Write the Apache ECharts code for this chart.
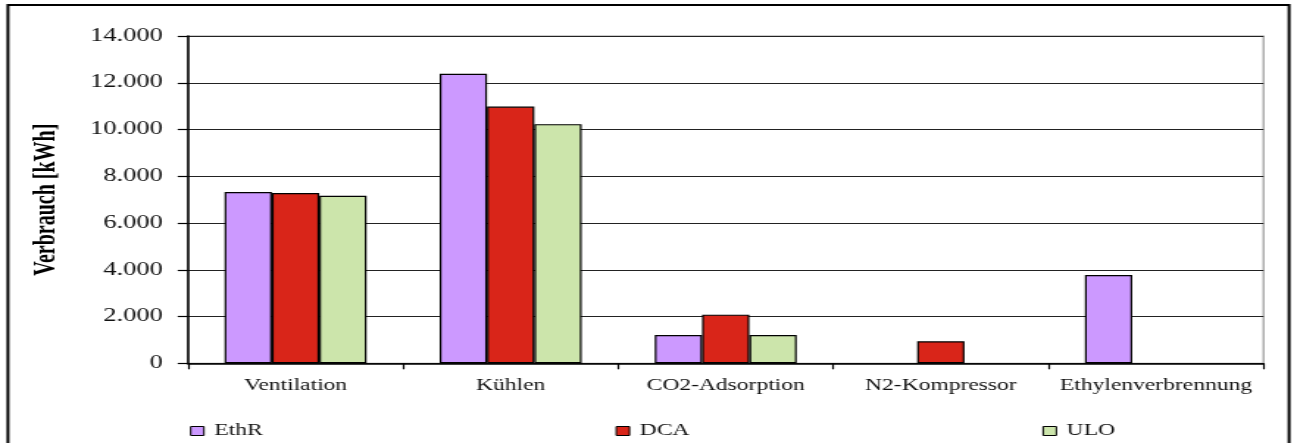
<!DOCTYPE html>
<html>
<head>
<meta charset="utf-8">
<script src="https://cdn.jsdelivr.net/npm/echarts@6/dist/echarts.min.js"></script>
<style>
  html, body { margin: 0; padding: 0; background: #fff; overflow: hidden; }
  #wrap { width: 1294px; height: 443px; overflow: hidden; }
  /* the chart is laid out narrower and widened horizontally to its final size */
  #chart { width: 880px; height: 443px; transform: scaleX(1.4705); transform-origin: 0 0; }
</style>
</head>
<body>
<div id="wrap"><div id="chart"></div></div>
<script>
// Energy use per process step, kWh
const categories = ['Ventilation', 'Kühlen', 'CO2-Adsorption', 'N2-Kompressor', 'Ethylenverbrennung'];
const seriesNames = ['EthR', 'DCA', 'ULO'];
const ethrValues = [7330, 12380, 1210, null, 3780];
const dcaValues  = [7280, 10980, 2080, 940, null];
const uloValues  = [7170, 10230, 1210, null, null];
const yTicks = { min: 0, max: 14000, interval: 2000 };
const colors = ['#CC99FF', '#D92519', '#CCE5AB'];

function formatThousands(v) {
  return String(v).replace(/\B(?=(\d{3})+(?!\d))/g, '.');
}

const FONT = '"Liberation Serif", "Times New Roman", serif';
const chart = echarts.init(document.getElementById('chart'), null, { renderer: 'canvas' });

const barSeries = [ethrValues, dcaValues, uloValues].map((vals, i) => ({
  name: seriesNames[i],
  type: 'bar',
  data: vals,
  barGap: '0%',
  barCategoryGap: '34%',
  itemStyle: { color: colors[i], borderColor: '#000', borderWidth: 1.2 },
  emphasis: { disabled: true }
}));

chart.setOption({
  animation: false,
  backgroundColor: '#fff',
  graphic: [{
    type: 'rect',
    shape: { x: 5.4, y: 5, width: 871.2, height: 470 },
    style: { fill: 'none', stroke: '#000', lineWidth: 2 },
    silent: true,
    z: 0
  }],
  grid: {
    left: 127.85, right: 20.8, top: 36, bottom: 79.7,
    show: true, borderColor: '#999', borderWidth: 1.2, backgroundColor: 'transparent'
  },
  legend: {
    data: seriesNames,
    left: 129.2,
    top: 423,
    padding: 0,
    itemWidth: 9,
    itemHeight: 9,
    itemGap: 240,
    icon: 'rect',
    itemStyle: { borderColor: '#000', borderWidth: 1 },
    textStyle: { fontFamily: FONT, fontSize: 16, color: '#111', padding: [0, 0, 0, 2] }
  },
  xAxis: {
    type: 'category',
    data: categories,
    axisLine: { lineStyle: { color: '#000', width: 1.5 } },
    axisTick: { show: true, alignWithLabel: false, length: 6, lineStyle: { color: '#000', width: 1.2 } },
    axisLabel: { fontFamily: FONT, fontSize: 16, color: '#111', margin: 14, interval: 0 },
    splitLine: { show: false }
  },
  yAxis: {
    type: 'value',
    min: yTicks.min,
    max: yTicks.max,
    interval: yTicks.interval,
    name: 'Verbrauch [kWh]',
    nameLocation: 'middle',
    nameGap: 86,
    nameTextStyle: { fontFamily: FONT, fontSize: 20, fontWeight: 'bold', color: '#000' },
    axisLine: { show: true, lineStyle: { color: '#000', width: 1.5 } },
    axisTick: { show: true, length: 7, lineStyle: { color: '#000', width: 1.2 } },
    axisLabel: { fontFamily: FONT, fontSize: 18, color: '#111', margin: 17, formatter: formatThousands },
    splitLine: { show: true, lineStyle: { color: '#222', width: 1.2 } }
  },
  series: barSeries
});
</script>
</body>
</html>
